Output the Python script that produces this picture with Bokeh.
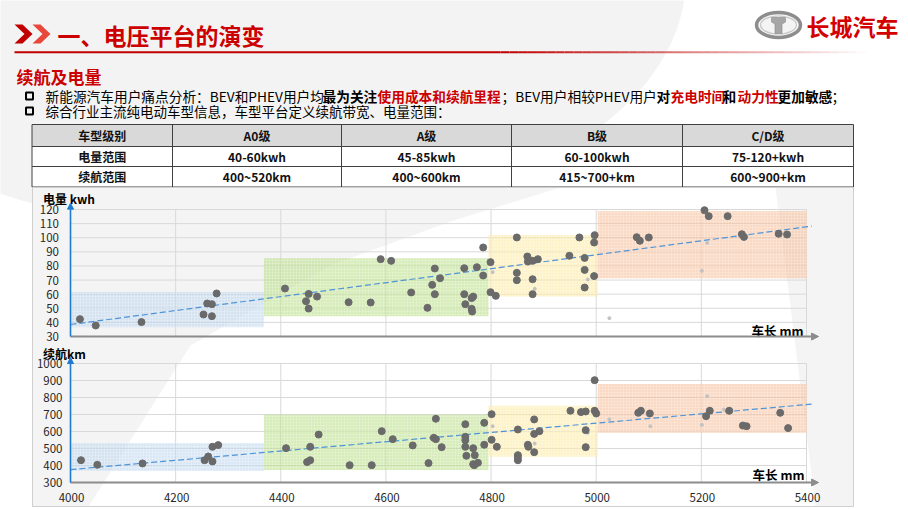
from bokeh.plotting import figure
from bokeh.models import Range1d, Arrow, NormalHead
from bokeh.core.properties import value
from bokeh.embed import file_html
from bokeh.resources import INLINE

FONT = "Noto Sans CJK SC"
RED = "#cc0000"

# ---------------- data ----------------
len_ticks = [4000, 4200, 4400, 4600, 4800, 5000, 5200, 5400]
kwh_ticks = [30, 40, 50, 60, 70, 80, 90, 100, 110, 120]
km_ticks = [300, 400, 500, 600, 700, 800, 900, 1000]

kwh_len = [4018, 4048, 4135, 4253, 4260, 4269, 4269, 4278, 4408, 4448, 4453, 4453, 4469, 4529,
           4571, 4590, 4610, 4648, 4679, 4688, 4693, 4693, 4703, 4749, 4773, 4785, 4785, 4799,
           4749, 4751, 4763, 4766, 4763, 4764, 4799, 4809, 4849, 4849, 4849, 4869, 4870, 4879,
           4889, 4879, 4879, 4949, 4968, 4978, 4978, 4978, 4996, 4997, 4996, 5077, 5083, 5100,
           5206, 5214, 5250, 5277, 5281, 5347, 5363]
kwh_val = [42.3, 37.8, 40.2, 45.6, 53.4, 52.9, 44.4, 60.5, 64.0, 55.0, 60.2, 49.8, 58.3, 54.3,
           54.1, 84.8, 83.6, 61.2, 50.3, 66.6, 78.2, 60.0, 71.3, 78.4, 79.1, 93.1, 73.2, 82.7,
           60.0, 52.9, 57.2, 58.3, 49.6, 47.7, 61.4, 58.8, 100.2, 75.1, 69.9, 86.7, 83.1, 83.6,
           84.8, 70.6, 60.0, 87.2, 100.2, 85.7, 77.2, 64.7, 96.6, 101.8, 72.8, 100.4, 97.8, 100.2,
           119.5, 115.3, 115.3, 102.5, 100.6, 102.8, 102.3]
kwh_small_len = [4803, 4883, 4984, 5025, 5201, 5211]
kwh_small_val = [75.6, 63.8, 70.4, 43.0, 76.5, 96.4]

km_len = [4020, 4051, 4137, 4255, 4262, 4270, 4281, 4270, 4410, 4450, 4456, 4456, 4472, 4531,
          4573, 4592, 4613, 4651, 4681, 4691, 4695, 4695, 4706, 4751, 4751, 4751, 4751, 4753,
          4766, 4769, 4766, 4768, 4775, 4787, 4787, 4801, 4801, 4811, 4851, 4851, 4851, 4851,
          4870, 4871, 4882, 4882, 4882, 4892, 4951, 4971, 4980, 4980, 4980, 4997, 4997, 5000,
          5080, 5085, 5102, 5209, 5216, 5253, 5279, 5286, 5350, 5365]
km_val = [431, 404, 412, 431, 453, 510, 520, 424, 502, 420, 431, 510, 582, 402,
          402, 602, 555, 518, 414, 563, 555, 675, 508, 643, 569, 549, 510, 457,
          502, 461, 408, 402, 416, 651, 522, 702, 551, 510, 612, 461, 447, 431,
          522, 510, 671, 586, 478, 602, 722, 714, 718, 608, 508, 902, 722, 706,
          710, 722, 706, 690, 722, 722, 635, 631, 710, 620]
km_small_len = [4803, 4883, 4984, 5025, 5103, 5201, 5211, 5243]
km_small_val = [631, 529, 592, 671, 631, 639, 808, 729]

trend_len = [4000, 5410]
trend_kwh = [38.5, 108.2]
trend_km = [376, 761]

band_left = [4000, 4368, 4795, 5003]
band_right = [4368, 4795, 5003, 5401]
band_kwh_low = [36.6, 44.4, 58.3, 71.3]
band_kwh_high = [61.6, 85.5, 102.0, 119.0]
band_km_low = [367, 373, 451, 592]
band_km_high = [533, 698, 751, 880]
band_colors = ["#bcd5ed", "#b4dc7f", "#fbe79b", "#f6bc94"]

table_header = ["车型级别", "A0级", "A级", "B级", "C/D级"]
table_kwh = ["电量范围", "40-60kwh", "45-85kwh", "60-100kwh", "75-120+kwh"]
table_km = ["续航范围", "400~520km", "400~600km", "415~700+km", "600~900+km"]

# ---------------- figure (page pixel coordinates) ----------------
W, H = 908, 509
p = figure(width=W, height=H, output_backend="svg", toolbar_location=None,
           x_range=Range1d(0, W), y_range=Range1d(H, 0),
           x_axis_type=None, y_axis_type=None, min_border=0)
p.outline_line_color = None
p.background_fill_color = "white"
p.border_fill_color = "white"


def lin(v0, px0, v1, px1, pa, pb):
    k = (v1 - v0) / (px1 - px0)
    return Range1d(start=v0 + (pa - px0) * k, end=v0 + (pb - px0) * k)


p.extra_x_ranges = {"len": lin(4000, 70, 5400, 806, 0, W)}
p.extra_y_ranges = {"kwh": lin(30, 336, 120, 209, H, 0),
                    "km": lin(300, 482, 1000, 363, H, 0)}


def txt(x, y, s, size, color="#000000", bold=False, align="left", **kw):
    p.text(x=[x], y=[y], text=[s], text_font=value(FONT), text_font_size=f"{size}px",
           text_color=color, text_font_style="bold" if bold else "normal",
           text_align=align, text_baseline="middle", **kw)


# background swoosh
p.ellipse(x=[235], y=[-20], width=[900], height=[500], fill_color="#f3f3f3", line_color=None)

# ---------------- header ----------------
chev_dx = [14, 32]
chev_col = ["#c00000", "#e8473b"]
xs, ys = [], []
for dx in chev_dx:
    xs.append([dx, dx + 8, dx + 18, dx + 8, dx, dx + 10])
    ys.append([24, 24, 33.5, 43, 43, 33.5])
p.patches(xs, ys, fill_color=chev_col, line_color=None)
txt(57, 34.5, "一、电压平台的演变", 23, RED, bold=True)

# title underline with fade
p.segment(x0=[14], x1=[500], y0=[51.7], y1=[51.7], line_color="#c00000", line_width=2)
N = 40
fx0 = [500 + i * 365 / N for i in range(N)]
fx1 = [500 + (i + 1) * 365 / N for i in range(N)]
p.segment(x0=fx0, x1=fx1, y0=[51.7] * N, y1=[51.7] * N, line_color="#c00000", line_width=2,
          line_alpha=[1 - i / N for i in range(N)])

# logo
p.ellipse(x=[778], y=[24.5], width=[44], height=[25], fill_color="#f4f4f4",
          line_color="#8d8d8d", line_width=3.5)
p.ellipse(x=[778], y=[24.5], width=[36], height=[18], fill_color=None,
          line_color="#c8c8c8", line_width=1.2)
p.patch([771, 785, 785, 781.5, 781.5, 774.5, 774.5, 771],
        [17, 17, 21.5, 23.5, 33, 33, 23.5, 21.5], fill_color="#a6a6a6", line_color="#8a8a8a",
        line_width=0.6)
txt(806, 25.5, "长城汽车", 23, "#d40000", bold=True)

txt(16, 76, "续航及电量", 17, RED, bold=True)

# bullets
p.rect(x=[29, 29], y=[95.5, 110.5], width=7, height=7, fill_color=None,
       line_color="#000000", line_width=2)
segs = [
    ("新能源汽车用户痛点分析：BEV和PHEV用户均", 45, False, "#000000"),
    ("最为关注", 322, True, "#000000"),
    ("使用成本和续航里程", 377, True, RED),
    ("；BEV用户相较PHEV用户", 501, False, "#000000"),
    ("对", 656, True, "#000000"),
    ("充电时间", 670, True, RED),
    ("和", 722, True, "#000000"),
    ("动力性", 737, True, RED),
    ("更加敏感", 777, True, "#000000"),
    ("；", 831, False, "#000000"),
]
for s, x, b, c in segs:
    txt(x, 95.5, s, 13.7, c, bold=b)
txt(45, 110.5, "综合行业主流纯电动车型信息，车型平台定义续航带宽、电量范围：", 13.5)

# table
col_edges = [31.5, 172, 341, 511, 682, 853]
row_edges = [124, 146, 166, 186.5]
rows = [table_header, table_kwh, table_km]
p.quad(left=[col_edges[0]] * 3, right=[col_edges[-1]] * 3, top=row_edges[:-1],
       bottom=row_edges[1:], fill_color=["#d9d9d9", "#ffffff", "#ffffff"], line_color=None)
p.segment(x0=[col_edges[0]] * 4, x1=[col_edges[-1]] * 4, y0=row_edges, y1=row_edges,
          line_color="#404040", line_width=1)
p.segment(x0=col_edges, x1=col_edges, y0=[row_edges[0]] * 6, y1=[row_edges[-1]] * 6,
          line_color="#404040", line_width=1)
for r, row in enumerate(rows):
    cy = (row_edges[r] + row_edges[r + 1]) / 2
    for c, s in enumerate(row):
        cx = (col_edges[c] + col_edges[c + 1]) / 2
        txt(cx, cy, s, 12, "#111111", bold=True, align="center")

# ---------------- chart panel ----------------
p.quad(left=[32], right=[853], top=[187], bottom=[506], fill_color="#f4f4f4", line_color=None)
p.patch([88, 190, 330, 450, 560, 775, 815], [506, 345, 265, 221, 187, 187, 506],
        fill_color="#ffffff", line_color=None)
p.quad(left=[32], right=[853], top=[187], bottom=[506], fill_color=None,
       line_color="#cfcfcf", line_width=1)


def draw_chart(rn, yt, pts_x, pts_y, sm_x, sm_y, b_lo, b_hi, tr_y, ylab_dx, ylab_size):
    kw = dict(x_range_name="len", y_range_name=rn)
    y0, y1 = yt[0], yt[-1]
    n = len(yt)
    p.segment(x0=[len_ticks[0]] * n, x1=[len_ticks[-1]] * n, y0=yt, y1=yt,
              line_color="#d9d9d9", line_width=1, **kw)
    m = len(len_ticks) - 1
    p.segment(x0=len_ticks[1:], x1=len_ticks[1:], y0=[y0] * m, y1=[y1] * m,
              line_color="#d9d9d9", line_width=1, **kw)
    p.quad(left=band_left, right=band_right, bottom=b_lo, top=b_hi, fill_color=band_colors,
           fill_alpha=0.55, line_color=None, hatch_pattern="+", hatch_color="#ffffff",
           hatch_alpha=0.35, hatch_scale=3, hatch_weight=0.6, **kw)
    p.line(trend_len, tr_y, line_color="#4f94d8", line_width=1.2, line_dash="6 3", **kw)
    p.scatter(sm_x, sm_y, size=3, color="#c2c2c2", **kw)
    p.scatter(pts_x, pts_y, size=7, color="#6a6a6a", **kw)
    # axes with arrows
    p.add_layout(Arrow(x_start=len_ticks[0], y_start=y0, x_end=5423, y_end=y0,
                       line_color="#8c8c8c", line_width=2,
                       end=NormalHead(size=7, fill_color="#8c8c8c", line_color="#8c8c8c"),
                       x_range_name="len", y_range_name=rn))
    p.add_layout(Arrow(x_start=len_ticks[0], y_start=y0, x_end=len_ticks[0],
                       y_end=y1 + (y1 - y0) * 0.05,
                       line_color="#1f7bd0", line_width=1.6,
                       end=NormalHead(size=6, fill_color="#1f7bd0", line_color="#1f7bd0"),
                       x_range_name="len", y_range_name=rn))
    p.text(x=[len_ticks[0]] * n, y=yt, text=[str(t) for t in yt], x_offset=ylab_dx,
           text_font=value(FONT), text_font_size=f"{ylab_size}px", text_color="#262626",
           text_align="right", text_baseline="middle", **kw)


draw_chart("kwh", kwh_ticks, kwh_len, kwh_val, kwh_small_len, kwh_small_val,
           band_kwh_low, band_kwh_high, trend_kwh, -11.5, 11.5)
draw_chart("km", km_ticks, km_len, km_val, km_small_len, km_small_val,
           band_km_low, band_km_high, trend_km, -8, 11.5)

# x tick labels (bottom chart)
p.text(x=len_ticks, y=[km_ticks[0]] * len(len_ticks), text=[str(t) for t in len_ticks],
       x_offset=1, y_offset=14.5, text_font=value(FONT), text_font_size="11.5px",
       text_color="#262626", text_align="center", text_baseline="middle",
       x_range_name="len", y_range_name="km")

# axis titles
txt(42.5, 197.5, "电量 kwh", 12, "#000000", bold=True)
txt(803, 330, "车长 mm", 12.5, "#000000", bold=True, align="right")
txt(42.5, 352.5, "续航km", 12, "#000000", bold=True)
txt(804, 474, "车长 mm", 12.5, "#000000", bold=True, align="right")

open("out.html", "w").write(file_html(p, INLINE))
